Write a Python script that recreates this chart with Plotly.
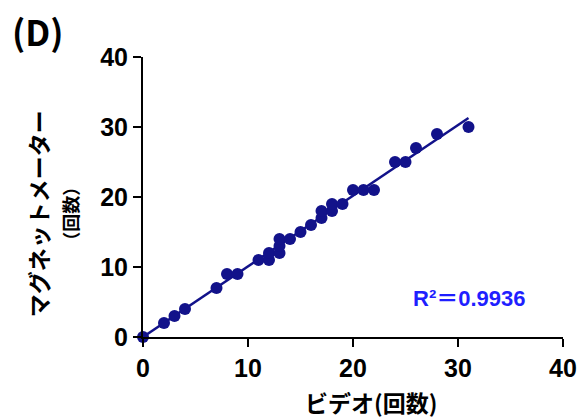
import numpy as np
import plotly.graph_objects as go

video = [0, 2, 3, 4, 7, 8, 9, 11, 12, 12, 13, 13, 13, 14, 15, 16, 17, 17, 18, 18, 19, 20, 21, 22, 24, 25, 26, 28, 31]
magnet = [0, 2, 3, 4, 7, 9, 9, 11, 11, 12, 12, 13, 14, 14, 15, 16, 17, 18, 18, 19, 19, 21, 21, 21, 25, 25, 27, 29, 30]
tick_vals = [0, 10, 20, 30, 40]
r2_label = "R²＝0.9936"

slope, intercept = np.polyfit(video, magnet, 1)
fit_x = [min(video), max(video)]
fit_y = [slope * v + intercept for v in fit_x]

navy = "#12128a"
font_main = "Liberation Sans, Arial, Noto Sans CJK JP, sans-serif"
font_cjk = "Noto Sans CJK JP, sans-serif"

fig = go.Figure()
fig.add_trace(go.Scatter(x=fit_x, y=fit_y, mode="lines",
                         line=dict(color=navy, width=2.5), cliponaxis=False,
                         hoverinfo="skip", showlegend=False))
fig.add_trace(go.Scatter(x=video, y=magnet, mode="markers",
                         marker=dict(color=navy, size=12), cliponaxis=False,
                         showlegend=False))

axis_common = dict(range=[0, 40], tickvals=tick_vals, ticks="outside", ticklen=8,
                   tickwidth=2, tickcolor="black", showline=True, linewidth=2,
                   linecolor="black", showgrid=False, zeroline=False, automargin=False,
                   tickfont=dict(family=font_main, size=25, color="black", weight="bold"))

fig.update_layout(
    width=580, height=419,
    margin=dict(l=143, r=17, t=57, b=82),
    paper_bgcolor="white", plot_bgcolor="white",
    xaxis=axis_common,
    yaxis=axis_common,
    annotations=[
        dict(text="(D)", xref="paper", yref="paper", x=-0.252, y=1.093,
             xanchor="center", yanchor="middle", showarrow=False,
             font=dict(family=font_cjk, size=35, color="black", weight="bold")),
        dict(text="ビデオ(回数)", xref="paper", yref="paper", x=0.543, y=-0.232,
             xanchor="center", yanchor="middle", showarrow=False,
             font=dict(family=font_cjk, size=23, color="black", weight="bold")),
        dict(text="マグネットメーター<br><span style='font-size:18px'>（回数）</span>",
             xref="paper", yref="paper", x=-0.218, y=0.44, textangle=-90,
             xanchor="center", yanchor="middle", showarrow=False,
             font=dict(family=font_cjk, size=23, color="black", weight="bold")),
        dict(text=r2_label, xref="x", yref="y", x=31.1, y=5.45,
             xanchor="center", yanchor="middle", showarrow=False,
             font=dict(family=font_main, size=22, color="#1f1fff", weight="bold")),
    ],
)

fig.write_html("out.html", config={"displayModeBar": False},
               post_script="document.body.style.margin='0';document.body.style.overflow='hidden';")
